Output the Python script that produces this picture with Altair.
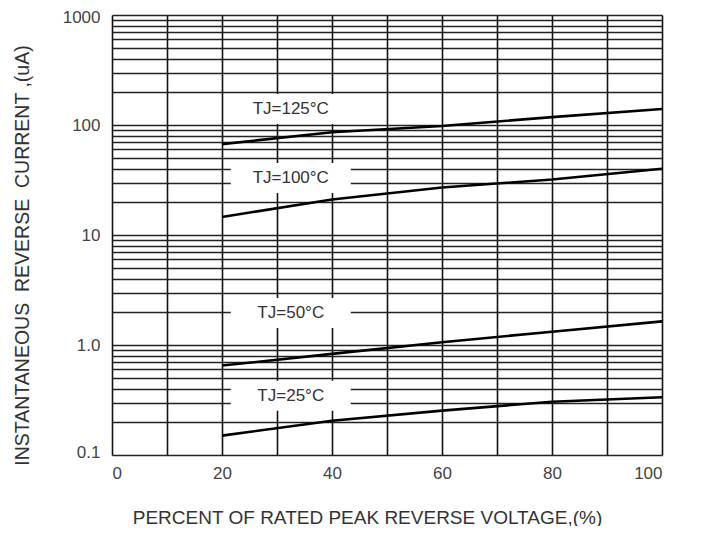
import altair as alt
import pandas as pd

# Data
x_pct = [20, 40, 60, 80, 100]
i_125 = [67, 86, 98, 118, 140]
i_100 = [14.6, 21, 27, 32, 40]
i_50 = [0.65, 0.83, 1.06, 1.32, 1.64]
i_25 = [0.15, 0.205, 0.253, 0.305, 0.335]

series_names = ["TJ=125°C", "TJ=100°C", "TJ=50°C", "TJ=25°C"]
series_vals = [i_125, i_100, i_50, i_25]

label_text = ["TJ=125°C", "TJ=100°C", "TJ=50°C", "TJ=25°C"]
label_x = [32.5, 32.5, 32.5, 32.5]
label_y = [140, 33, 1.95, 0.345]

x_ticks = [0, 20, 40, 60, 80, 100]
y_major = [0.1, 1, 10, 100, 1000]
y_major_text = ["0.1", "1.0", "10", "100", "1000"]

# grid values 1..9 x 10^k
y_grid = []
for dec in [0.1, 1, 10, 100]:
    for m in range(1, 10):
        y_grid.append(round(m * dec, 6))
y_grid.append(1000)

rows = []
for name, vals in zip(series_names, series_vals):
    for xv, yv in zip(x_pct, vals):
        rows.append({"series": name, "x": xv, "y": yv})
df = pd.DataFrame(rows)
lab = pd.DataFrame({"text": label_text, "x": label_x, "y": label_y})

label_expr = " : ".join(
    f"datum.value == {v} ? '{t}'" for v, t in zip(y_major, y_major_text)
) + " : ''"
x_label_expr = " : ".join(
    f"datum.value == {v} ? '{v}'" for v in x_ticks
) + " : ''"

FONT = "Liberation Sans"
NB = "\u00a0"

xscale = alt.Scale(domain=[0, 100], nice=False, zero=False)
yscale = alt.Scale(type="log", domain=[0.1, 1000], nice=False)

xaxis = alt.Axis(
    values=list(range(0, 101, 10)),
    labelExpr=x_label_expr,
    grid=True, gridColor="#111", gridWidth=1.6, gridOpacity=1,
    ticks=False, domain=False,
    labelFont=FONT, labelFontSize=17, labelColor="#444", labelPadding=10,
    labelOverlap=False,
    title="PERCENT OF RATED PEAK REVERSE VOLTAGE,(%)",
    titleFont=FONT, titleFontSize=19, titleFontWeight="normal", titleColor="#333",
    titleY=62, titleBaseline="middle", titleX=255,
)
yaxis = alt.Axis(
    values=y_grid,
    labelExpr=label_expr,
    grid=True, gridColor="#222", gridWidth=1.6, gridOpacity=1,
    ticks=False, domain=False,
    labelFont=FONT, labelFontSize=17, labelColor="#444", labelPadding=12,
    labelOverlap=False, labelFlush=True, labelFlushOffset=6,
    title=f"INSTANTANEOUS {NB}REVERSE {NB}CURRENT ,(uA)",
    titleFont=FONT, titleFontSize=19.5, titleFontWeight="normal", titleColor="#333",
    titleX=-90, titleY=240, titleAngle=-90, titleAlign="center", titleBaseline="middle",
)

lines = alt.Chart(df).mark_line(color="black", strokeWidth=2.6).encode(
    x=alt.X("x:Q", scale=xscale, axis=xaxis),
    y=alt.Y("y:Q", scale=yscale, axis=yaxis),
    detail="series:N",
)

boxes = alt.Chart(lab).mark_point(
    shape="M-1,-0.25H1V0.25H-1Z", filled=True, color="white", opacity=1, size=14400
).encode(
    x=alt.X("x:Q", scale=xscale),
    y=alt.Y("y:Q", scale=yscale),
)

texts = alt.Chart(lab).mark_text(
    font=FONT, fontSize=17, color="#333", align="center", baseline="middle"
).encode(
    x=alt.X("x:Q", scale=xscale),
    y=alt.Y("y:Q", scale=yscale),
    text="text:N",
)

chart = alt.layer(boxes, lines, texts).properties(
    width=550, height=440,
    autosize=alt.AutoSizeParams(type="none"),
    padding={"left": 104, "top": 7, "right": 30, "bottom": 71},
).configure_view(
    stroke="#222", strokeWidth=2.5
).configure(background="white")

chart.save("out.html", embed_options={"renderer": "svg", "actions": False})
